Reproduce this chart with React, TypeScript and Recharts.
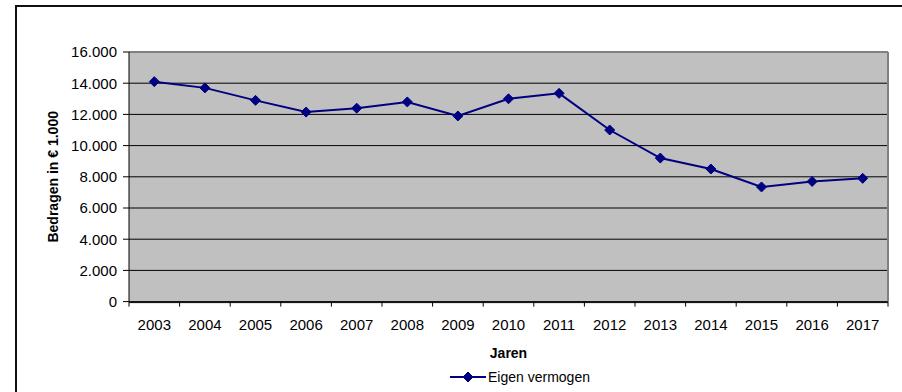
import React from "react";
import {
  LineChart,
  Line,
  XAxis,
  YAxis,
  CartesianGrid,
  ReferenceLine,
  Legend,
} from "recharts";

// Eigen vermogen per jaar, bedragen in € 1.000
const years = [2003, 2004, 2005, 2006, 2007, 2008, 2009, 2010, 2011, 2012, 2013, 2014, 2015, 2016, 2017];
const eigenVermogen = [14100, 13700, 12900, 12150, 12400, 12800, 11900, 13000, 13350, 11000, 9200, 8500, 7350, 7700, 7900];
const yTicks = [0, 2000, 4000, 6000, 8000, 10000, 12000, 14000, 16000];
// category boundaries, used for the tick marks between the years
const yearEdges = [...years.map((y) => y - 0.5), years[years.length - 1] + 0.5];

const seriesName = "Eigen vermogen";
const xTitle = "Jaren";
const yTitle = "Bedragen in € 1.000";

const data = years.map((year, i) => ({ year, value: eigenVermogen[i] }));

const FONT = '"Liberation Sans", Arial, sans-serif';
const NAVY = "#000080";

const formatThousands = (v: number) => String(v).replace(/\B(?=(\d{3})+(?!\d))/g, ".");

const Diamond = (props: any) => {
  const { cx, cy } = props;
  if (cx == null || cy == null) return null;
  const r = 5;
  return (
    <polygon
      points={`${cx},${cy - r} ${cx + r},${cy} ${cx},${cy + r} ${cx - r},${cy}`}
      fill={NAVY}
      stroke={NAVY}
      strokeWidth={1}
    />
  );
};

const LegendContent = (props: any) => {
  const item = props.payload && props.payload[0];
  const label = item ? item.value : seriesName;
  return (
    <div style={{ display: "flex", justifyContent: "flex-start", alignItems: "center", height: 30, paddingLeft: 449 }}>
      <svg width={38} height={12}>
        <line x1={1} y1={6} x2={37} y2={6} stroke={NAVY} strokeWidth={2} />
        <Diamond cx={19} cy={6} />
      </svg>
      <span style={{ fontFamily: FONT, fontSize: 14, color: "#000", marginLeft: 1 }}>{label}</span>
    </div>
  );
};

const YTitle = (props: any) => {
  const vb = props.viewBox || {};
  const cy = vb.y + vb.height / 2;
  const cx = 53;
  return (
    <text
      x={cx}
      y={cy}
      transform={`rotate(-90, ${cx}, ${cy})`}
      textAnchor="middle"
      dominantBaseline="central"
      fontFamily={FONT}
      fontSize={14}
      fontWeight="bold"
      fill="#000"
    >
      {yTitle}
    </text>
  );
};

const XTitle = (props: any) => {
  const vb = props.viewBox || {};
  const cx = vb.x + vb.width / 2;
  const cy = vb.y + 50;
  return (
    <text
      x={cx}
      y={cy}
      textAnchor="middle"
      dominantBaseline="central"
      fontFamily={FONT}
      fontSize={14}
      fontWeight="bold"
      fill="#000"
    >
      {xTitle}
    </text>
  );
};

const NoLabel = () => <g />;

export default function App() {
  return (
    <div
      style={{
        position: "fixed",
        left: 0,
        top: 0,
        width: 902,
        height: 392,
        overflow: "hidden",
        background: "#fff",
      }}
    >
      <div
        style={{
          position: "absolute",
          left: 15,
          top: 5,
          width: 1000,
          height: 1000,
          borderLeft: "2px solid #111",
          borderTop: "2px solid #111",
        }}
      />
      <div style={{ position: "absolute", left: 0, top: 0 }}>
        <LineChart
          width={902}
          height={392}
          data={data}
          margin={{ top: 52, right: 14, bottom: 0, left: 69 }}
          style={{ fontFamily: FONT }}
        >
          <CartesianGrid
            xAxisId="edges"
            horizontal={true}
            vertical={false}
            stroke="#000"
            strokeWidth={1}
            fill="#C0C0C0"
            fillOpacity={1}
          />
          <XAxis
            xAxisId="edges"
            type="number"
            dataKey="year"
            domain={[yearEdges[0], yearEdges[yearEdges.length - 1]]}
            ticks={yearEdges}
            interval={0}
            tick={<NoLabel />}
            axisLine={false}
            tickLine={{ stroke: "#000", strokeWidth: 1 }}
            tickSize={5}
            height={1}
            allowDataOverflow
          />
          <XAxis
            xAxisId="years"
            type="number"
            dataKey="year"
            domain={[yearEdges[0], yearEdges[yearEdges.length - 1]]}
            ticks={years}
            interval={0}
            tickLine={false}
            tickSize={0}
            tickMargin={17}
            axisLine={{ stroke: "#000", strokeWidth: 1 }}
            tick={{ fill: "#000", fontSize: 15, fontFamily: FONT }}
            height={59.4}
            allowDataOverflow
            label={<XTitle />}
          />
          <YAxis
            type="number"
            domain={[0, 16000]}
            ticks={yTicks}
            interval={0}
            width={60}
            tickSize={6}
            tickMargin={6}
            tickFormatter={formatThousands}
            axisLine={{ stroke: "#000", strokeWidth: 1 }}
            tickLine={{ stroke: "#000", strokeWidth: 1 }}
            tick={{ fill: "#000", fontSize: 15, fontFamily: FONT }}
            label={<YTitle />}
          />
          <ReferenceLine xAxisId="edges" y={16000} stroke="#808080" strokeWidth={2} />
          <ReferenceLine xAxisId="edges" x={yearEdges[yearEdges.length - 1]} stroke="#808080" strokeWidth={2} />
          <Legend
            verticalAlign="bottom"
            height={30}
            wrapperStyle={{ left: 0, width: 902 }}
            content={<LegendContent />}
          />
          <Line
            xAxisId="edges"
            type="linear"
            dataKey="value"
            name={seriesName}
            stroke={NAVY}
            strokeWidth={2}
            dot={<Diamond />}
            activeDot={false}
            isAnimationActive={false}
          />
        </LineChart>
      </div>
    </div>
  );
}
